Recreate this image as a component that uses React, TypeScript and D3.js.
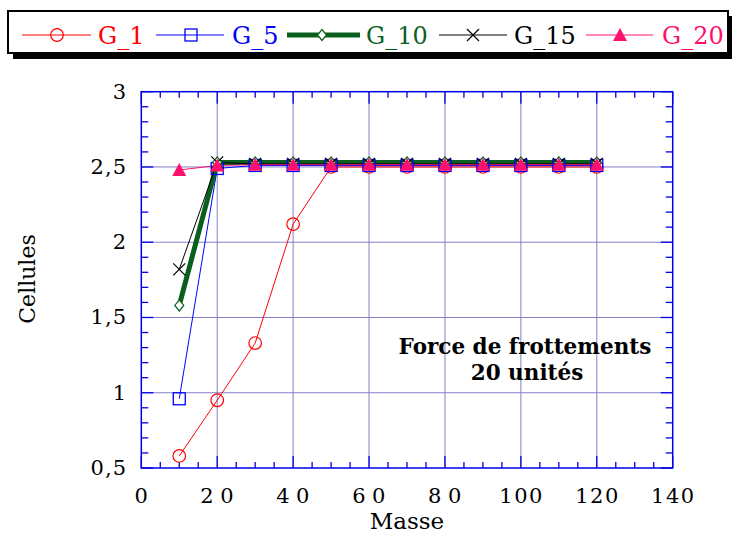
import React from "react";
import * as d3 from "d3";

const masses = [10, 20, 30, 40, 50, 60, 70, 80, 90, 100, 110, 120];
const g1 = [0.58, 0.95, 1.33, 2.12, 2.5, 2.5, 2.5, 2.5, 2.5, 2.5, 2.5, 2.5];
const g5 = [0.96, 2.49, 2.51, 2.51, 2.51, 2.51, 2.51, 2.51, 2.51, 2.51, 2.51, 2.51];
const g10 = [1.58, 2.53, 2.53, 2.53, 2.53, 2.53, 2.53, 2.53, 2.53, 2.53, 2.53, 2.53];
const g15 = [1.82, 2.53, 2.52, 2.52, 2.52, 2.52, 2.52, 2.52, 2.52, 2.52, 2.52, 2.52];
const g20 = [2.48, 2.51, 2.515, 2.515, 2.515, 2.515, 2.515, 2.515, 2.515, 2.515, 2.515, 2.515];
const seriesNames = ["G_1", "G_5", "G_10", "G_15", "G_20"];
const xTicks = [0, 20, 40, 60, 80, 100, 120, 140];
const yTicks = [0.5, 1, 1.5, 2, 2.5, 3];
const yTickLabels = ["0,5", "1", "1,5", "2", "2,5", "3"];

const FONT = "'DejaVu Serif', serif";

type Style = { color: string; width: number; marker: string };
const styles: Style[] = [
  { color: "#ff0000", width: 1, marker: "circle" },
  { color: "#0000ff", width: 1, marker: "square" },
  { color: "#0a5e1e", width: 5, marker: "diamond" },
  { color: "#000000", width: 1, marker: "cross" },
  { color: "#ff1070", width: 1, marker: "triangle" },
];
const seriesValues = [g1, g5, g10, g15, g20];

function Marker({ type, x, y, color }: { type: string; x: number; y: number; color: string }) {
  switch (type) {
    case "circle":
      return <circle cx={x} cy={y} r={6.3} fill="none" stroke={color} strokeWidth={1.2} />;
    case "square":
      return <rect x={x - 6} y={y - 6} width={12} height={12} fill="none" stroke={color} strokeWidth={1.3} />;
    case "diamond":
      return (
        <path
          d={`M${x},${y - 5.5}L${x + 4.5},${y}L${x},${y + 5.5}L${x - 4.5},${y}Z`}
          fill="white"
          stroke={color}
          strokeWidth={1.2}
        />
      );
    case "cross":
      return (
        <path
          d={`M${x - 6},${y - 6}L${x + 6},${y + 6}M${x - 6},${y + 6}L${x + 6},${y - 6}`}
          stroke={color}
          strokeWidth={1.2}
        />
      );
    case "triangle":
      return <path d={`M${x},${y - 7}L${x + 7},${y + 6}L${x - 7},${y + 6}Z`} fill={color} />;
  }
  return null;
}

export default function App() {
  const W = 732;
  const H = 536;
  const left = 141.3;
  const right = 672.7;
  const top = 91.7;
  const bottom = 468;
  const x = d3.scaleLinear().domain([0, 140]).range([left, right]);
  const y = d3.scaleLinear().domain([0.5, 3]).range([bottom, top]);
  const line = d3
    .line<number>()
    .x((_, i) => x(masses[i]))
    .y((d) => y(d));

  const gridColor = "#8480c8";
  const axisColor = "#0000e6";
  const xMinor = d3.range(0, 140.01, 5).filter((v) => v % 20 !== 0);
  const yMinor = d3.range(0.5, 3.001, 0.1).filter((v) => Math.abs((v * 2) - Math.round(v * 2)) > 0.01);

  const legendItems = [
    { lx1: 22, lx2: 91, mx: 57, tx: 98 },
    { lx1: 156, lx2: 224, mx: 191, tx: 232 },
    { lx1: 287, lx2: 360, mx: 322, tx: 366 },
    { lx1: 439, lx2: 507, mx: 473, tx: 514 },
    { lx1: 586, lx2: 653, mx: 620, tx: 662 },
  ];

  return (
    <svg width={W} height={H} style={{ position: "absolute", left: 0, top: 0 }} fontFamily={FONT}>
      <rect width={W} height={H} fill="white" />
      {/* grid */}
      {xTicks.slice(1, -1).map((t) => (
        <line key={"gx" + t} x1={x(t)} x2={x(t)} y1={top} y2={bottom} stroke={gridColor} strokeWidth={1} />
      ))}
      {yTicks.slice(1, -1).map((t) => (
        <line key={"gy" + t} x1={left} x2={right} y1={y(t)} y2={y(t)} stroke={gridColor} strokeWidth={1} />
      ))}
      {/* ticks */}
      {xTicks.map((t) => (
        <g key={"xt" + t}>
          <line x1={x(t)} x2={x(t)} y1={bottom} y2={bottom - 12} stroke={axisColor} strokeWidth={1.3} />
          <line x1={x(t)} x2={x(t)} y1={top} y2={top + 12} stroke={axisColor} strokeWidth={1.3} />
        </g>
      ))}
      {xMinor.map((t) => (
        <g key={"xm" + t}>
          <line x1={x(t)} x2={x(t)} y1={bottom} y2={bottom - 6} stroke={axisColor} strokeWidth={1.3} />
          <line x1={x(t)} x2={x(t)} y1={top} y2={top + 6} stroke={axisColor} strokeWidth={1.3} />
        </g>
      ))}
      {yTicks.map((t) => (
        <g key={"yt" + t}>
          <line x1={left} x2={left + 12} y1={y(t)} y2={y(t)} stroke={axisColor} strokeWidth={1.3} />
          <line x1={right} x2={right - 12} y1={y(t)} y2={y(t)} stroke={axisColor} strokeWidth={1.3} />
        </g>
      ))}
      {yMinor.map((t) => (
        <g key={"ym" + t}>
          <line x1={left} x2={left + 7} y1={y(t)} y2={y(t)} stroke={axisColor} strokeWidth={1.3} />
          <line x1={right} x2={right - 7} y1={y(t)} y2={y(t)} stroke={axisColor} strokeWidth={1.3} />
        </g>
      ))}
      <rect x={left} y={top} width={right - left} height={bottom - top} fill="none" stroke={axisColor} strokeWidth={1.5} />

      {/* series */}
      {seriesValues.map((vals, si) => (
        <path key={"s" + si} d={line(vals) || ""} fill="none" stroke={styles[si].color} strokeWidth={styles[si].width} />
      ))}
      {seriesValues.map((vals, si) => (
        <g key={"m" + si}>
          {vals.map((v, i) => (
            <Marker key={i} type={styles[si].marker} x={x(masses[i])} y={y(v)} color={styles[si].color} />
          ))}
        </g>
      ))}

      {/* tick labels */}
      {xTicks.map((t) => (
        <text
          key={"xl" + t}
          x={x(t)}
          y={503}
          textAnchor="middle"
          fontSize={21}
          letterSpacing={t >= 10 && t < 100 ? 6.5 : 1.5}
          dx={t >= 10 && t < 100 ? 3 : 0.7}
        >
          {String(t)}
        </text>
      ))}
      {yTicks.map((t, i) => (
        <text key={"yl" + t} x={127} y={y(t) + 7} textAnchor="end" fontSize={21} letterSpacing={1}>
          {yTickLabels[i]}
        </text>
      ))}
      <text x={407} y={529} textAnchor="middle" fontSize={23}>Masse</text>
      <text transform={`translate(35,279) rotate(-90)`} textAnchor="middle" fontSize={22}>Cellules</text>

      {/* annotation */}
      <text x={525} y={354} textAnchor="middle" fontSize={21.5} fontWeight="bold">Force de frottements</text>
      <text x={527} y={380} textAnchor="middle" fontSize={21.5} fontWeight="bold">20 unités</text>

      {/* legend */}
      <rect x={13} y={16} width={720} height={43} fill="black" />
      <rect x={8} y={11} width={720} height={42} fill="white" stroke="black" strokeWidth={2} />
      {legendItems.map((it, i) => (
        <g key={"lg" + i}>
          <line x1={it.lx1} x2={it.lx2} y1={35} y2={35} stroke={styles[i].color} strokeWidth={styles[i].width} />
          <Marker type={styles[i].marker} x={it.mx} y={35} color={styles[i].color} />
          <text x={it.tx} y={44} fontSize={24} fill={styles[i].color}>{seriesNames[i]}</text>
        </g>
      ))}
    </svg>
  );
}
